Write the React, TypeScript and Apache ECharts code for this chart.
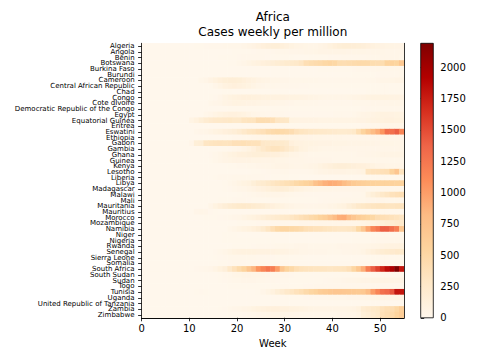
import React, { useEffect, useRef } from "react";
import * as echarts from "echarts";

const countries = [
  "Algeria", "Angola", "Benin", "Botswana", "Burkina Faso", "Burundi", "Cameroon",
  "Central African Republic", "Chad", "Congo", "Cote dIvoire",
  "Democratic Republic of the Congo", "Egypt", "Equatorial Guinea", "Eritrea", "Eswatini",
  "Ethiopia", "Gabon", "Gambia", "Ghana", "Guinea", "Kenya", "Lesotho", "Liberia", "Libya",
  "Madagascar", "Malawi", "Mali", "Mauritania", "Mauritius", "Morocco", "Mozambique",
  "Namibia", "Niger", "Nigeria", "Rwanda", "Senegal", "Sierra Leone", "Somalia",
  "South Africa", "South Sudan", "Sudan", "Togo", "Tunisia", "Uganda",
  "United Republic of Tanzania", "Zambia", "Zimbabwe",
];

// weekly cases per million, weeks 0..54
const algeria = [0,0,0,0,0,0,0,0,0,0, 2,5,8,10,12,15,18,20,20,22, 25,35,50,70,90,120,140,150,150,130, 110,80,60,50,45,40,40,50,70,100, 130,150,170,170,160,150,140,120,100,80, 70,60,60,55,50];
const angola = [0,0,0,0,0,0,0,0,0,0, 0,0,0,0,1,1,2,2,3,4, 5,6,8,10,12,14,15,18,20,22, 25,28,30,32,35,40,45,50,50,55, 55,50,50,48,45,45,42,40,38,36, 35,34,33,32,30];
const benin = [0,0,0,0,0,0,0,0,0,0, 0,0,0,1,2,3,4,5,6,8, 10,12,14,15,14,12,10,8,6,5, 4,4,3,3,3,4,5,6,8,10, 10,10,12,14,15,16,18,20,22,25, 28,30,30,28,26];
const botswana = [0,0,0,0,0,0,0,0,0,0, 0,0,0,1,1,2,2,3,5,8, 20,40,60,80,100,120,140,160,180,200, 220,240,260,300,400,430,450,470,500,520, 500,430,420,440,450,460,470,460,430,420, 430,550,560,540,680];
const burkinaFaso = [0,0,0,0,0,0,0,0,0,0, 0,0,1,2,3,3,2,2,1,1, 1,1,1,1,1,1,1,1,1,1, 1,1,2,2,2,3,3,4,4,5, 6,7,8,9,10,12,14,16,18,20, 22,24,25,24,22];
const burundi = [0,0,0,0,0,0,0,0,0,0, 0,0,0,0,0,0,0,1,1,1, 2,2,2,2,2,2,2,2,2,2, 2,2,2,2,2,2,2,2,2,3, 3,3,3,3,4,4,5,6,8,10, 12,14,16,18,20];
const cameroon = [0,0,0,0,0,0,0,0,0,0, 0,1,20,40,70,100,130,150,160,160, 150,130,110,90,70,60,50,40,35,30, 28,26,25,24,22,20,20,18,18,16, 15,15,15,15,15,16,18,20,25,30, 35,40,45,50,55];
const car = [0,0,0,0,0,0,0,0,0,0, 0,0,1,2,5,30,60,90,110,120, 110,100,80,60,40,30,25,20,18,16, 15,14,12,10,10,8,8,6,6,5, 5,5,4,4,4,4,4,4,5,5, 5,6,6,6,6];
const chad = [0,0,0,0,0,0,0,0,0,0, 0,0,0,0,1,2,3,4,4,3, 3,2,2,2,1,1,1,1,1,1, 1,1,1,1,1,1,1,1,1,1, 1,1,1,2,2,2,3,4,5,6, 7,8,8,8,7];
const congo = [0,0,0,0,0,0,0,0,0,0, 0,0,1,2,5,10,30,60,80,100, 110,120,120,115,110,100,100,95,90,90, 85,80,80,75,70,60,50,45,40,40, 40,40,40,45,50,60,70,80,80,80, 80,80,75,75,70];
const coteDivoire = [0,0,0,0,0,0,0,0,0,0, 0,0,1,2,20,30,40,60,70,80, 80,75,70,65,60,55,50,45,40,35, 30,28,25,22,20,20,20,18,18,18, 18,18,18,18,20,22,24,26,28,30, 32,34,35,36,38];
const drc = [0,0,0,0,0,0,0,0,0,0, 0,0,0,0,1,1,2,3,4,5, 6,7,8,8,8,8,7,6,6,5, 5,5,4,4,4,4,4,4,5,5, 5,6,6,7,8,9,10,12,14,15, 16,16,15,15,14];
const egypt = [0,0,0,0,0,0,0,0,0,0, 0,1,2,20,40,60,80,100,110,110, 100,80,60,40,30,20,18,16,14,12, 10,10,10,10,10,10,10,10,10,10, 12,14,16,18,20,40,50,60,70,80, 90,90,85,80,75];
const eqGuinea = [0,0,0,0,0,0,0,0,0,0, 60,100,150,200,230,250,260,270,280,260, 260,320,330,330,420,430,420,400,300,290, 280,80,75,70,70,65,65,60,60,60, 60,60,60,60,60,65,70,80,90,100, 100,110,110,100,100];
const eritrea = [0,0,0,0,0,0,0,0,0,0, 0,0,0,0,0,0,0,1,1,1, 2,2,2,2,3,3,3,4,4,4, 4,4,4,4,4,4,4,4,4,4, 4,5,5,6,6,8,10,15,20,25, 30,35,40,40,38];
const eswatini = [0,0,0,0,0,0,0,0,0,0, 0,20,30,40,60,80,100,120,140,160, 200,250,300,320,350,380,440,460,480,470, 450,420,350,320,300,280,270,260,250,240, 230,220,220,230,260,400,550,680,800,900, 1050,1300,1300,1400,1150];
const ethiopia = [0,0,0,0,0,0,0,0,0,0, 0,0,0,0,1,2,3,5,8,12, 18,22,26,30,35,40,45,50,55,60, 60,60,58,55,50,48,45,42,40,38, 36,35,34,33,32,32,31,30,30,30, 30,30,30,30,30];
const gabon = [0,0,0,0,0,0,0,0,0,0, 30,150,170,300,320,330,340,330,340,380, 380,390,370,360,360,270,260,250,240,240, 220,120,100,90,80,80,75,70,70,65, 60,60,58,55,55,55,50,50,50,48, 45,45,42,40,40];
const gambia = [0,0,0,0,0,0,0,0,0,0, 0,0,0,0,1,2,3,5,10,20, 30,50,80,120,180,250,300,330,330,300, 250,200,150,100,80,60,50,45,40,38, 36,35,34,33,32,32,30,30,30,30, 30,30,32,34,35];
const ghana = [0,0,0,0,0,0,0,0,0,0, 0,0,1,2,10,20,40,60,80,100, 120,130,140,150,150,150,140,130,120,100, 80,60,50,40,30,25,25,25,25,25, 25,25,25,25,25,28,30,35,40,45, 50,55,60,60,58];
const guinea = [0,0,0,0,0,0,0,0,0,0, 0,0,1,2,5,20,40,50,60,65, 70,70,65,60,60,55,50,50,45,45, 40,40,35,35,30,30,30,30,28,28, 26,26,25,25,24,24,22,22,20,20, 20,20,20,20,20];
const kenya = [0,0,0,0,0,0,0,0,0,0, 0,0,0,0,0,1,2,3,5,8, 12,16,20,25,30,35,40,45,50,50, 50,45,40,40,45,50,60,80,110,130, 150,160,160,150,140,130,120,110,80,60, 50,45,40,40,38];
const lesotho = [0,0,0,0,0,0,0,0,0,0, 0,0,0,0,0,0,0,0,0,0, 0,1,2,5,8,10,12,15,18,20, 20,18,16,15,15,20,40,50,60,70, 70,70,65,60,60,70,80,330,350,360, 380,400,560,700,330];
const liberia = [0,0,0,0,0,0,0,0,0,0, 0,0,0,1,3,8,12,15,18,20, 22,22,20,18,15,12,10,8,6,5, 4,4,4,3,3,3,3,3,3,3, 3,3,3,3,3,3,4,4,5,5, 6,6,6,6,6];
const libya = [0,0,0,0,0,0,0,0,0,0, 0,0,0,0,0,1,2,5,20,40, 60,80,100,150,200,220,260,300,330,360, 390,430,480,520,560,600,750,820,880,920, 900,870,800,720,660,620,600,580,570,560, 560,560,570,560,560];
const madagascar = [0,0,0,0,0,0,0,0,0,0, 0,0,0,0,1,2,3,5,10,20, 30,40,50,70,90,110,130,150,160,160, 150,130,100,80,60,50,45,40,38,36, 34,32,30,30,30,28,28,26,26,25, 25,24,24,24,24];
const malawi = [0,0,0,0,0,0,0,0,0,0, 0,0,0,0,0,0,0,0,0,0, 5,10,15,20,30,40,45,40,35,30, 25,20,15,12,10,10,10,10,10,10, 10,10,10,10,12,15,20,100,150,200, 260,300,350,380,400];
const mali = [0,0,0,0,0,0,0,0,0,0, 0,0,0,0,1,2,4,6,8,10, 12,12,10,8,6,5,5,4,4,4, 4,4,4,5,5,6,8,10,12,14, 16,18,20,22,24,25,26,28,30,30, 28,26,24,22,20];
const mauritania = [0,0,0,0,0,0,0,0,0,0, 0,0,0,0,40,80,120,160,200,220, 240,250,240,220,200,180,150,120,100,80, 60,50,40,35,30,30,30,35,40,50, 60,80,100,150,200,250,280,300,320,330, 330,320,320,330,330];
const mauritius = [0,0,0,0,0,0,0,0,0,0, 0,30,40,30,10,5,2,1,1,1, 1,1,1,1,1,1,1,1,1,1, 1,1,1,1,1,1,2,2,2,3, 3,3,4,4,4,4,4,4,4,5, 5,5,5,5,5];
const morocco = [0,0,0,0,0,0,0,0,0,0, 0,1,2,4,6,8,10,12,20,30, 40,60,80,100,120,150,180,200,220,240, 260,300,340,380,420,460,500,560,600,700, 800,900,920,800,700,620,580,540,500,420, 400,380,360,330,300];
const mozambique = [0,0,0,0,0,0,0,0,0,0, 0,0,0,0,0,1,1,2,2,3, 4,5,6,8,10,12,14,16,18,20, 22,24,26,28,30,32,34,36,38,40, 40,40,40,40,40,45,60,80,100,120, 150,180,200,230,250];
const namibia = [0,0,0,0,0,0,0,0,0,0, 0,0,0,0,1,1,2,3,20,40, 60,80,100,130,160,220,300,400,480,520, 520,500,480,450,400,380,360,350,330,320, 300,290,290,300,330,500,700,950,1150,1250, 1400,1400,1300,1200,700];
const niger = [0,0,0,0,0,0,0,0,0,0, 0,0,0,0,1,2,3,4,4,4, 3,3,2,2,2,1,1,1,1,1, 1,1,1,1,1,1,1,1,1,1, 1,1,2,2,2,3,4,5,6,7, 8,8,8,7,6];
const nigeria = [0,0,0,0,0,0,0,0,0,0, 0,0,0,0,1,2,3,4,5,6, 7,8,8,8,7,6,5,4,3,3, 3,3,2,2,2,2,2,2,2,2, 2,2,3,3,4,5,6,8,10,12, 15,18,20,22,22];
const rwanda = [0,0,0,0,0,0,0,0,0,0, 0,0,0,0,1,1,2,2,3,4, 5,6,8,10,12,14,16,18,20,22, 24,26,28,28,28,26,24,22,22,24, 26,28,30,32,34,36,40,45,50,60, 70,80,90,95,100];
const senegal = [0,0,0,0,0,0,0,0,0,0, 0,0,0,0,2,10,20,40,60,80, 90,100,100,100,95,90,90,85,80,75, 70,60,50,40,35,30,30,28,28,26, 26,26,28,30,35,40,60,100,130,160, 190,210,230,250,240];
const sierraLeone = [0,0,0,0,0,0,0,0,0,0, 0,0,0,0,1,5,10,15,20,22, 24,24,22,20,18,15,12,10,8,6, 5,5,4,4,3,3,3,3,3,3, 3,3,3,3,3,3,3,4,4,5, 6,6,6,6,6];
const somalia = [0,0,0,0,0,0,0,0,0,0, 0,0,0,0,1,3,6,8,10,12, 12,10,8,6,5,4,3,3,3,3, 3,3,3,3,3,3,3,3,3,3, 3,3,3,3,3,3,3,3,4,4, 4,4,4,4,4];
const southAfrica = [0,0,0,0,0,0,0,0,0,1, 3,10,15,20,30,60,100,140,250,350, 450,550,700,850,1050,1150,1250,1200,1000,700, 550,480,400,360,340,330,320,320,310,300, 310,320,330,380,520,680,900,1200,1400,1550, 1700,1850,1950,2190,1800];
const southSudan = [0,0,0,0,0,0,0,0,0,0, 0,0,0,0,1,3,8,15,25,35, 45,50,50,45,40,35,30,25,20,15, 12,10,8,6,5,5,4,4,4,4, 4,4,4,4,5,5,5,6,6,6, 6,6,6,6,6];
const sudan = [0,0,0,0,0,0,0,0,0,0, 0,0,0,0,1,3,6,10,15,20, 25,30,30,28,25,20,15,12,10,8, 6,5,5,5,5,5,6,8,10,15, 20,25,30,35,40,45,50,55,60,60, 60,60,58,56,55];
const togo = [0,0,0,0,0,0,0,0,0,0, 0,0,0,0,0,1,2,3,4,5, 5,6,6,6,6,6,6,6,6,6, 6,7,8,9,10,11,12,12,12,12, 12,12,12,12,12,12,12,12,12,13, 14,15,16,17,18];
const tunisia = [0,0,0,0,0,0,0,0,0,0, 0,5,10,8,3,1,1,1,1,1, 1,1,2,3,5,30,60,100,150,200, 250,300,350,400,460,520,560,620,650,680, 700,700,690,680,670,660,680,800,1000,1150, 1300,1350,1450,1800,1800];
const uganda = [0,0,0,0,0,0,0,0,0,0, 0,0,0,0,0,0,1,1,1,1, 1,1,1,2,2,2,2,2,3,3, 4,5,6,8,10,12,14,16,18,20, 22,24,26,28,30,32,34,36,40,45, 50,55,60,60,58];
const tanzania = [0,0,0,0,0,0,0,0,0,0, 0,0,0,0,1,2,2,1,0,0, 0,0,0,0,0,0,0,0,0,0, 0,0,0,0,0,0,0,0,0,0, 0,0,0,0,0,0,0,0,0,0, 0,0,0,0,0];
const zambia = [0,0,0,0,0,0,0,0,0,0, 0,0,0,0,1,2,5,10,20,30, 40,50,60,80,100,110,120,120,120,110, 110,100,90,80,70,60,55,50,50,50, 50,50,55,60,70,100,200,230,260,280, 350,400,420,500,600];
const zimbabwe = [0,0,0,0,0,0,0,0,0,0, 0,0,0,0,0,0,1,2,4,6, 8,10,15,20,30,40,45,50,50,45, 40,35,30,25,20,20,20,20,20,22, 25,28,30,35,40,60,150,180,220,260, 380,420,460,550,620];

const rows = [
  algeria, angola, benin, botswana, burkinaFaso, burundi, cameroon, car, chad, congo,
  coteDivoire, drc, egypt, eqGuinea, eritrea, eswatini, ethiopia, gabon, gambia, ghana,
  guinea, kenya, lesotho, liberia, libya, madagascar, malawi, mali, mauritania, mauritius,
  morocco, mozambique, namibia, niger, nigeria, rwanda, senegal, sierraLeone, somalia,
  southAfrica, southSudan, sudan, togo, tunisia, uganda, tanzania, zambia, zimbabwe,
];

const weeks = algeria.map((_, i) => String(i));
const weekTicks = [0, 10, 20, 30, 40, 50];
const colorbarTicks = [0, 250, 500, 750, 1000, 1250, 1500, 1750, 2000];
const colorMax = 2192;
const orRd = ["#fff7ec", "#fee8c8", "#fdd49e", "#fdbb84", "#fc8d59", "#ef6548", "#d7301f", "#b30000", "#7f0000"];

export default function App() {
  const ref = useRef<HTMLDivElement>(null);
  useEffect(() => {
    const chart = echarts.init(ref.current!, null, { renderer: "svg" });
    const data: number[][] = [];
    rows.forEach((row, ci) => row.forEach((v, wi) => data.push([wi, ci, v])));
    const L = 141.6, T = 43.3, W = 262.4, H = 274.5;
    const CL = 420.7, CW = 12.6;
    const line = { color: "#000", width: 0.8 };
    const font = "DejaVu Sans";
    chart.setOption({
      animation: false,
      textStyle: { fontFamily: font },
      title: {
        text: "Africa\nCases weekly per million",
        left: L + W / 2,
        top: 9,
        textAlign: "center",
        padding: 0,
        textStyle: { fontSize: 12, fontWeight: "normal", color: "#000", lineHeight: 15, fontFamily: font },
      },
      grid: [
        { left: L, top: T, width: W, height: H },
        { left: CL, top: T, width: CW, height: H },
      ],
      xAxis: [
        {
          type: "category", data: weeks, gridIndex: 0, position: "top",
          axisLine: { show: true, lineStyle: line }, axisTick: { show: false },
          axisLabel: { show: false }, splitLine: { show: false }, z: 10,
        },
        {
          type: "value", gridIndex: 0, min: 0, max: 55, position: "bottom",
          axisLine: { show: true, lineStyle: line },
          axisTick: { show: true, customValues: weekTicks, length: 3.5, lineStyle: line },
          axisLabel: { customValues: weekTicks, fontSize: 10, color: "#000", margin: 6, fontFamily: font, formatter: (v: number) => String(v) },
          splitLine: { show: false },
          name: "Week", nameLocation: "middle", nameGap: 20,
          nameTextStyle: { fontSize: 10, color: "#000", fontFamily: font }, z: 10,
        },
        { type: "value", gridIndex: 1, min: 0, max: 1, show: false },
      ],
      yAxis: [
        {
          type: "category", data: countries, gridIndex: 0, inverse: true, position: "left",
          axisLine: { show: true, lineStyle: line },
          axisTick: { show: true, alignWithLabel: true, length: 3.5, lineStyle: line },
          axisLabel: { interval: 0, fontSize: 7, color: "#000", margin: 7, fontFamily: font },
          splitLine: { show: false }, z: 10,
        },
        {
          type: "value", gridIndex: 0, min: 0, max: 1, position: "right",
          axisLine: { show: true, lineStyle: line }, axisTick: { show: false },
          axisLabel: { show: false }, splitLine: { show: false }, z: 10,
        },
        {
          type: "value", gridIndex: 1, min: 0, max: colorMax, position: "right",
          axisLine: { show: false },
          axisTick: { show: true, customValues: colorbarTicks, length: 3.5, lineStyle: line },
          axisLabel: { customValues: colorbarTicks, fontSize: 10, color: "#000", margin: 7, fontFamily: font, formatter: (v: number) => String(v) },
          splitLine: { show: false },
        },
      ],
      visualMap: {
        type: "continuous", show: false, min: 0, max: colorMax, dimension: 2,
        seriesIndex: 0, inRange: { color: orRd },
      },
      series: [
        {
          type: "heatmap", xAxisIndex: 0, yAxisIndex: 0, data,
          itemStyle: { borderWidth: 0 }, emphasis: { disabled: true }, progressive: 0,
        },
      ],
      graphic: [
        {
          type: "rect",
          shape: { x: CL, y: T, width: CW, height: H },
          style: {
            fill: new echarts.graphic.LinearGradient(
              0, 1, 0, 0,
              orRd.map((c, i) => ({ offset: i / (orRd.length - 1), color: c }))
            ),
            stroke: "#000",
            lineWidth: 0.8,
          },
          z: 1,
        },
      ],
    });
    return () => chart.dispose();
  }, []);
  return <div ref={ref} style={{ position: "absolute", left: 0, top: 0, width: 480, height: 360 }} />;
}
